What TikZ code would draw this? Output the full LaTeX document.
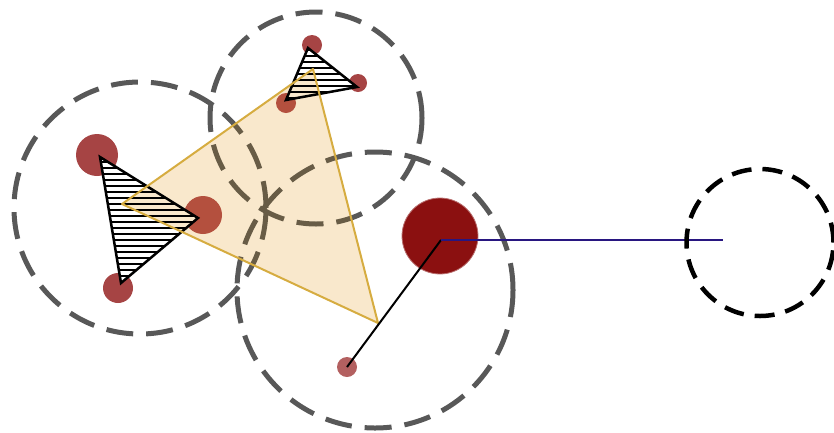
\documentclass[tikz,border=0pt]{standalone}
\usetikzlibrary{calc}
\definecolor{ringgray}{RGB}{88,88,88}
\definecolor{ringbrown}{RGB}{104,92,70}
\definecolor{dotred}{RGB}{166,68,68}
\definecolor{dotblend}{RGB}{180,80,62}
\definecolor{bigred}{RGB}{139,16,16}
\definecolor{beige}{RGB}{249,232,204}
\definecolor{gold}{RGB}{214,172,64}
\definecolor{navy}{RGB}{40,22,128}
\tikzset{
  ring/.style={draw=ringgray, line width=5pt, dash pattern=on 27pt off 13pt},
  target/.style={draw=black, line width=4.5pt, dash pattern=on 20pt off 11pt},
  vdot/.style={fill=dotred, draw=none},
  hatchtri/.style={draw=black, line width=2.5pt, line join=miter},
  hatchline/.style={draw=black, line width=2.2pt},
}
% rings
\newcommand\myrings{%
  \draw[ring] (140,208) circle[radius=126pt];
  \draw[ring] (316,118) circle[radius=106pt];
  \draw[ring] (375,290) circle[radius=138pt];}
% hatched triangles, #1 = fill between hatch lines
\newcommand\myhatchleft[1]{%
  \begin{scope}
    \fill[#1] (la)--(lb)--(lc)--cycle;
    \clip (la)--(lb)--(lc)--cycle;
    \foreach \yy in {150,156,...,290} \draw[hatchline] (90,\yy)--(210,\yy);
  \end{scope}
  \draw[hatchtri] (la)--(lb)--(lc)--cycle;}
\newcommand\myhatchtop[1]{%
  \begin{scope}
    \fill[#1] (ta)--(tb)--(tc)--cycle;
    \clip (ta)--(tb)--(tc)--cycle;
    \foreach \yy in {44,50,...,104} \draw[hatchline] (280,\yy)--(365,\yy);
  \end{scope}
  \draw[hatchtri] (ta)--(tb)--(tc)--cycle;}
\begin{document}
\begin{tikzpicture}[x=1pt,y=-1pt]
\useasboundingbox (0,0) rectangle (834,432);
\coordinate (la) at (100,157);
\coordinate (lb) at (121,283);
\coordinate (lc) at (198,218);
\coordinate (ta) at (308,48);
\coordinate (tb) at (357,87);
\coordinate (tc) at (286,100);
\coordinate (ba) at (122,204);
\coordinate (bb) at (313,69);
\coordinate (bc) at (378,323);
% dashed rings
\myrings
% vertex dots
\fill[vdot] (97,155) circle[radius=21pt];
\fill[vdot] (203,215) circle[radius=19pt];
\fill[vdot] (118,288) circle[radius=15pt];
\fill[vdot] (312,45) circle[radius=10pt];
\fill[vdot] (358,83) circle[radius=9pt];
\fill[vdot] (286,103) circle[radius=10pt];
\fill[dotred!85] (347,367) circle[radius=10pt];
% hatched triangles
\myhatchleft{white}
\myhatchtop{white}
% big beige triangle, with what lies under it tinted
\fill[beige] (ba)--(bb)--(bc)--cycle;
\begin{scope}
  \clip (ba)--(bb)--(bc)--cycle;
  \tikzset{ring/.append style={draw=ringbrown}}
  \myrings
  \fill[dotblend] (203,215) circle[radius=19pt];
  \fill[dotblend] (286,103) circle[radius=10pt];
  \myhatchleft{beige}
  \myhatchtop{beige}
\end{scope}
\draw[gold, line width=2pt, line join=round] (ba)--(bb)--(bc)--cycle;
% hub
\fill[bigred, draw=bigred!60!white, line width=0.8pt] (440,236) circle[radius=38pt];
\coordinate (hub) at (441,240);
\coordinate (foot) at (347,367);
\coordinate (tip) at (723,240);
\draw[black, line width=2pt] (hub)--(foot);
\draw[navy, line width=2.8pt] (hub)--(tip);
% target ring
\draw[target] (760,242.5) circle[radius=73.5pt];
\end{tikzpicture}
\end{document}
